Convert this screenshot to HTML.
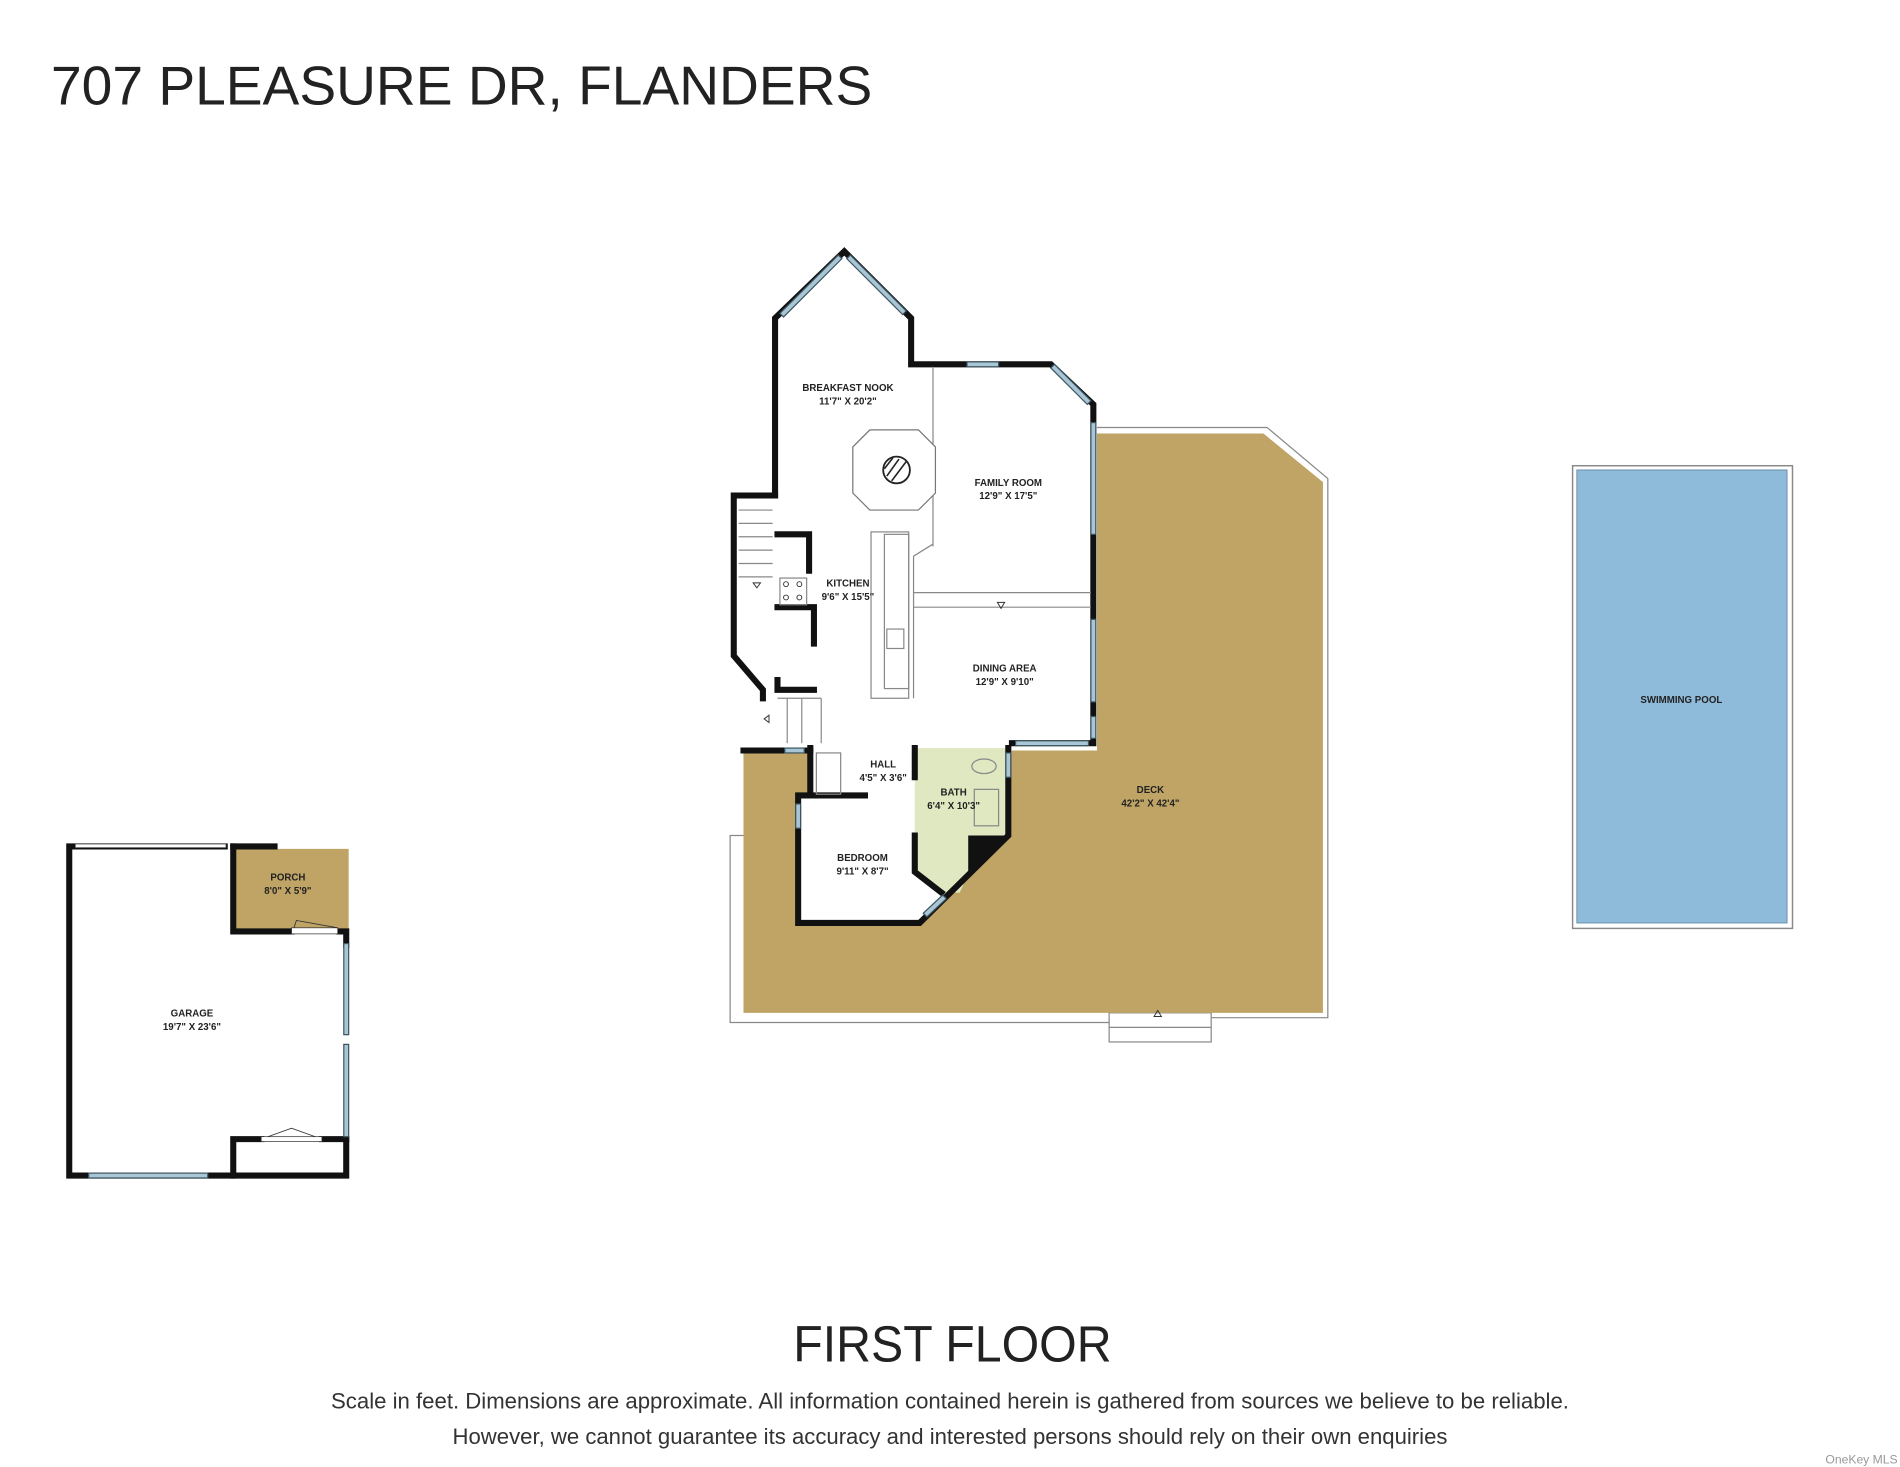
<!DOCTYPE html>
<html><head><meta charset="utf-8"><style>
html,body{margin:0;padding:0;background:#fff;}
svg{display:block;}
text{font-family:"Liberation Sans",sans-serif;}
.lb{font-size:8px;font-weight:bold;text-anchor:middle;fill:#222;}
.w{fill:none;stroke:#111;stroke-width:5;stroke-linejoin:miter;stroke-linecap:square;}
.t{fill:none;stroke:#888;stroke-width:1;}
.win{stroke:#3d5560;stroke-width:1;fill:#a9c6d6;}
</style></head><body>
<svg width="1900" height="1467" viewBox="0 0 1564 1208" preserveAspectRatio="none" xmlns="http://www.w3.org/2000/svg">
<rect width="1564" height="1208" fill="#fff"/>
<text x="42" y="86" font-size="45" fill="#222" textLength="676" lengthAdjust="spacingAndGlyphs">707 PLEASURE DR, FLANDERS</text>

<!-- pool -->
<rect x="1294.5" y="383.5" width="181" height="381" fill="none" stroke="#888" stroke-width="1.2"/>
<rect x="1298" y="387" width="173" height="373" fill="#8fbbdb" stroke="#6a8fa8" stroke-width="0.8"/>
<text class="lb" x="1384" y="579" font-size="7.5">SWIMMING POOL</text>

<!-- deck -->
<polyline class="t" points="612,688 601,688 601,842 913,842"/>
<rect x="913" y="834" width="84" height="24" fill="#fff" stroke="#888"/>
<line x1="913" y1="846" x2="997" y2="846" stroke="#888"/>
<polyline class="t" points="997,838 1093,838 1093,394 1043,352 903,352"/>
<polygon points="612,618 903,618 903,357 1040,357 1089,397 1089,834 612,834" fill="#bfa466"/>
<path d="M950,837 l3,-5 l3,5z" fill="none" stroke="#333" stroke-width="0.8"/>

<!-- house interior white -->
<polygon points="638,262 695,207 750,262 750,300 865,300 900,333 900,612 833,612 830,688 757,760 657,760 657,655 667,655 667,614 628,614 628,568 604,540 604,408 638,408" fill="#fff"/>
<!-- bath green -->
<polygon points="753,616 830,616 830,688 797,720 790,735 775,735 753,718" fill="#dfe8c0"/>
<polygon points="797,688 830,688 797,722" fill="#111"/>

<!-- main walls -->
<polyline class="w" points="638,408 638,262 695,207 750,262 750,300 865,300 900,333 900,612 833,612"/>
<polyline class="w" points="638,408 604,408 604,540 628,568 628,575"/>
<polyline class="w" points="612,618 667,618"/>
<polyline class="w" points="830,616 830,688 757,760 657,760 657,655 712,655"/>
<polyline class="w" points="667,616 667,655"/>
<polyline class="w" points="753,616 753,640"/>
<polyline class="w" points="753,688 753,718 775,735"/>
<polyline class="w" points="640,440 666,440 666,470"/>
<polyline class="w" points="640,500 670,500 670,530"/>
<polyline class="w" points="640,560 640,568 670,568"/>

<!-- windows -->
<g class="win">
<polygon points="642,258 690,210 693,213 645,261"/>
<polygon points="700,210 746,256 743,259 697,213"/>
<rect x="796" y="298" width="26" height="4"/>
<polygon points="868,300 898,330 895,333 865,303"/>
<rect x="898" y="348" width="4" height="92"/>
<rect x="898" y="510" width="4" height="68"/>
<rect x="898" y="590" width="4" height="18"/>
<rect x="836" y="610" width="60" height="4"/>
<rect x="828" y="620" width="4" height="20"/>
<rect x="646" y="616" width="16" height="4"/>
<rect x="655" y="662" width="4" height="20"/>
<polygon points="760,752 776,737 779,740 763,755"/>
</g>

<!-- interior thin -->
<g class="t">
<line x1="768" y1="302" x2="768" y2="450"/>
<polyline points="752,458 768,448"/>
<polygon points="716,354 756,354 770,368 770,406 756,420 716,420 702,406 702,368" fill="#fff" stroke="#777"/>
<rect x="717" y="438" width="31" height="137" fill="#fff"/>
<rect x="728" y="440" width="20" height="127"/>
<rect x="730" y="518" width="14" height="16"/>
<line x1="752" y1="488" x2="898" y2="488"/>
<line x1="752" y1="500" x2="898" y2="500"/>
<line x1="752" y1="458" x2="752" y2="575"/>
<line x1="608" y1="420" x2="636" y2="420"/><line x1="608" y1="431" x2="636" y2="431"/><line x1="608" y1="442" x2="636" y2="442"/><line x1="608" y1="453" x2="636" y2="453"/><line x1="608" y1="464" x2="636" y2="464"/><line x1="608" y1="475" x2="636" y2="475"/>
<rect x="642" y="476" width="22" height="22"/>
<line x1="640" y1="575" x2="676" y2="575"/>
<line x1="648" y1="575" x2="648" y2="612"/><line x1="660" y1="575" x2="660" y2="612"/><line x1="676" y1="575" x2="676" y2="612"/>
<rect x="672" y="620" width="20" height="34"/>
<rect x="802" y="650" width="20" height="30" fill="#dfe8c0"/>
<ellipse cx="810" cy="631" rx="10" ry="6"/>
</g>
<circle cx="738" cy="387" r="11" fill="#fff" stroke="#222" stroke-width="1.5"/>
<g stroke="#222" stroke-width="1.3"><line x1="730" y1="392" x2="740" y2="378"/><line x1="734" y1="396" x2="746" y2="380"/><line x1="728" y1="386" x2="735" y2="377"/></g>
<g fill="none" stroke="#333" stroke-width="0.8">
<circle cx="647" cy="481" r="2"/><circle cx="658" cy="481" r="2"/><circle cx="647" cy="492" r="2"/><circle cx="658" cy="492" r="2"/>
<path d="M821,496 l3,5 l3,-5z"/><path d="M620,480 l3,4 l3,-4z"/><path d="M629,592 l4,-3 l0,6z"/>
</g>

<!-- labels -->
<text class="lb" x="698" y="322">BREAKFAST NOOK</text><text class="lb" x="698" y="333">11'7" X 20'2"</text>
<text class="lb" x="830" y="400">FAMILY ROOM</text><text class="lb" x="830" y="411">12'9" X 17'5"</text>
<text class="lb" x="698" y="483">KITCHEN</text><text class="lb" x="698" y="494">9'6" X 15'5"</text>
<text class="lb" x="827" y="553">DINING AREA</text><text class="lb" x="827" y="564">12'9" X 9'10"</text>
<text class="lb" x="727" y="632">HALL</text><text class="lb" x="727" y="643">4'5" X 3'6"</text>
<text class="lb" x="785" y="655">BATH</text><text class="lb" x="785" y="666">6'4" X 10'3"</text>
<text class="lb" x="710" y="709">BEDROOM</text><text class="lb" x="710" y="720">9'11" X 8'7"</text>
<text class="lb" x="947" y="653">DECK</text><text class="lb" x="947" y="664">42'2" X 42'4"</text>

<!-- garage -->
<rect x="192" y="699" width="95" height="67" fill="#bfa466"/>
<polyline class="w" points="185,697 57,697 57,968 285,968 285,938"/>
<polyline class="w" points="192,697 226,697"/>
<polyline class="w" points="192,697 192,767 240,767"/>
<polyline class="w" points="279,767 285,767 285,778"/>
<polyline class="w" points="192,968 192,938 215,938"/>
<polyline class="w" points="265,938 285,938"/>
<rect x="62" y="695" width="124" height="3" fill="#fff" stroke="#444" stroke-width="0.6"/>
<rect x="73" y="966" width="98" height="4" class="win"/>
<rect x="283" y="777" width="4" height="75" class="win"/>
<rect x="283" y="860" width="4" height="76" class="win"/>
<rect x="240" y="764" width="38" height="5" fill="#fff" stroke="#333" stroke-width="0.6"/>
<path d="M242,764 L244,758 L278,764" fill="none" stroke="#333" stroke-width="0.7"/>
<path d="M215,938 L240,929 L265,938" fill="none" stroke="#333" stroke-width="0.7"/>
<rect x="215" y="936" width="50" height="4" fill="#fff" stroke="#333" stroke-width="0.6"/>
<text class="lb" x="237" y="725">PORCH</text><text class="lb" x="237" y="736">8'0" X 5'9"</text>
<text class="lb" x="158" y="837">GARAGE</text><text class="lb" x="158" y="848">19'7" X 23'6"</text>

<!-- footer -->
<text x="784" y="1121" font-size="42" fill="#222" text-anchor="middle" textLength="262" lengthAdjust="spacingAndGlyphs">FIRST FLOOR</text>
<text x="782" y="1160" font-size="18.5" fill="#333" text-anchor="middle" textLength="1019" lengthAdjust="spacingAndGlyphs">Scale in feet. Dimensions are approximate. All information contained herein is gathered from sources we believe to be reliable.</text>
<text x="782" y="1189" font-size="18.5" fill="#333" text-anchor="middle" textLength="819" lengthAdjust="spacingAndGlyphs">However, we cannot guarantee its accuracy and interested persons should rely on their own enquiries</text>
<text x="1562" y="1205" font-size="10" fill="#999" text-anchor="end">OneKey MLS</text>
</svg>
</body></html>
